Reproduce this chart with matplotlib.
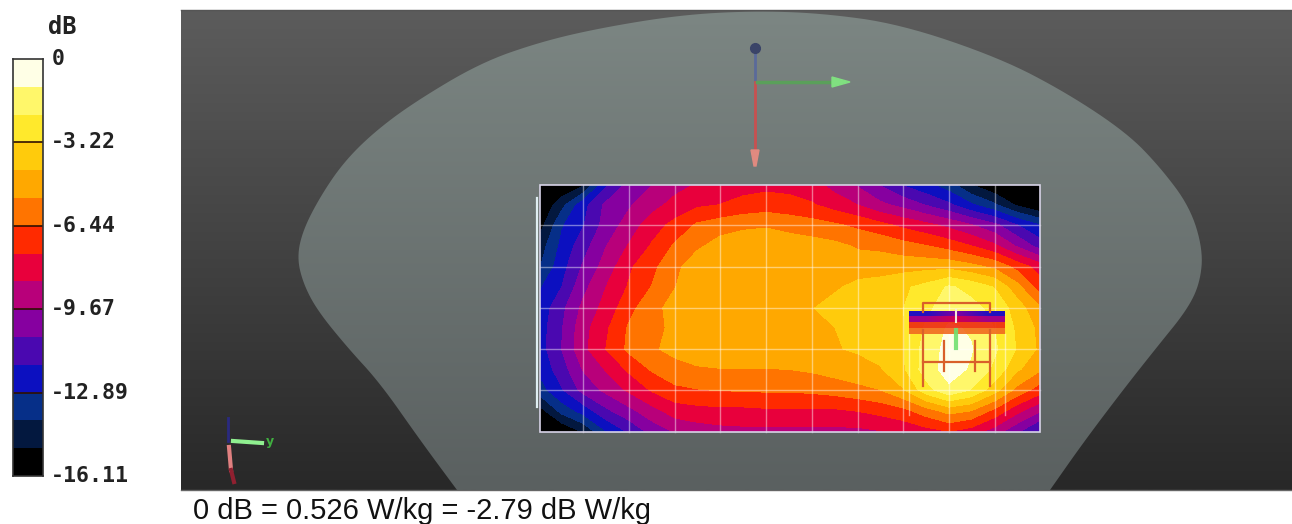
import numpy as np
import matplotlib
matplotlib.use("Agg")
import matplotlib.pyplot as plt
from matplotlib.path import Path
from matplotlib.patches import PathPatch, Rectangle
from matplotlib.transforms import ScaledTranslation

W, H = 1292, 524

# ---- colour scale ----
tick_values = [0, -3.22, -6.44, -9.67, -12.89, -16.11]
tick_labels = ["0", "-3.22", "-6.44", "-9.67", "-12.89", "-16.11"]
band_edges = np.linspace(-16.11, 0, 16)
band_colors = ["#000000", "#03183f", "#062f88", "#0c10c0", "#4a08b0", "#8600a0",
               "#b8007a", "#e8003c", "#ff2a00", "#ff7400", "#ffa800", "#ffcb0c",
               "#ffe92c", "#fff76a", "#ffffe6"]

# ---- measured field, dB, on the scan grid ----
grid_x = [540, 562, 583, 606, 629, 652, 675, 697, 720, 743, 766, 789, 812, 835, 858, 880,
          903, 926, 949, 971, 995, 1017, 1040]
grid_y = [185, 205, 225, 246, 267, 287, 308, 328, 349, 369, 390, 411, 432]
field_db = [
    [-16.1, -16.1, -15.2, -12.0, -10.4, -9.7, -9.0, -8.5, -8.1, -7.9, -7.8, -7.9, -8.2, -9.0, -9.8, -10.8, -11.9, -12.6, -13.5, -15.0, -16.0, -16.1, -16.1],
    [-16.1, -14.3, -12.2, -10.5, -9.8, -9.0, -8.2, -7.7, -7.5, -7.2, -7.0, -7.1, -7.4, -8.0, -8.6, -9.4, -10.0, -10.8, -11.6, -12.7, -13.8, -15.2, -16.1],
    [-15.5, -13.0, -11.9, -10.3, -9.2, -8.0, -7.2, -6.3, -5.9, -5.6, -5.5, -5.8, -6.0, -6.3, -6.7, -7.2, -7.8, -8.3, -8.9, -9.6, -10.5, -11.8, -12.9],
    [-14.5, -12.6, -11.2, -9.7, -8.5, -7.4, -6.3, -5.6, -4.9, -4.7, -4.6, -4.7, -4.9, -5.1, -5.5, -5.6, -6.0, -6.4, -6.9, -7.5, -8.4, -9.8, -11.2],
    [-14.0, -12.2, -10.6, -9.2, -7.7, -6.7, -5.7, -4.6, -4.7, -4.6, -4.6, -4.6, -4.6, -4.7, -4.8, -4.8, -4.7, -4.6, -4.6, -5.0, -5.6, -6.8, -8.0],
    [-13.0, -11.8, -10.0, -8.6, -7.4, -6.4, -5.4, -4.7, -4.6, -4.5, -4.5, -4.5, -4.5, -4.45, -4.0, -3.8, -3.4, -2.9, -2.0, -2.5, -3.3, -5.0, -7.0],
    [-12.5, -11.0, -9.4, -8.2, -6.8, -5.7, -5.0, -4.8, -4.6, -4.5, -4.45, -4.4, -4.35, -3.9, -3.6, -3.4, -3.25, -2.4, -1.6, -1.8, -2.5, -3.7, -5.3],
    [-12.3, -10.8, -9.0, -7.7, -6.3, -5.6, -5.2, -4.7, -4.6, -4.5, -4.5, -4.45, -4.4, -4.3, -3.9, -3.6, -3.3, -2.0, -0.9, -1.2, -2.2, -3.4, -4.6],
    [-12.3, -10.7, -8.9, -7.5, -6.2, -5.5, -5.1, -4.7, -4.6, -4.55, -4.5, -4.45, -4.4, -4.35, -4.2, -3.8, -3.3, -1.7, -0.7, -1.0, -2.0, -3.3, -4.5],
    [-12.6, -11.2, -9.6, -8.5, -7.3, -6.3, -5.7, -5.5, -5.4, -5.4, -5.4, -5.35, -5.2, -4.9, -4.6, -4.4, -3.4, -1.6, -0.6, -1.2, -2.4, -4.1, -5.2],
    [-13.4, -11.9, -10.4, -9.4, -8.4, -7.4, -6.7, -6.5, -6.4, -6.35, -6.3, -6.3, -6.2, -6.0, -5.7, -5.4, -4.4, -2.6, -1.3, -2.2, -3.9, -5.7, -7.0],
    [-15.5, -13.6, -12.5, -11.0, -10.0, -9.0, -8.1, -7.9, -7.8, -7.8, -7.7, -7.7, -7.7, -7.7, -7.5, -7.2, -6.8, -5.9, -5.0, -5.4, -6.8, -8.3, -9.6],
    [-16.1, -16.1, -15.0, -13.0, -11.7, -10.4, -9.6, -9.2, -9.0, -8.9, -8.9, -8.9, -8.9, -8.9, -8.9, -8.7, -8.4, -8.0, -7.6, -8.1, -9.2, -10.6, -12.2],
]

# ---- phantom outline and scene furniture (pixels) ----
phantom_outline = [(457, 490), (420, 440), (380, 383), (347, 347), (317, 310), (303, 283),
                   (297, 257), (303, 230), (320, 197), (343, 163), (373, 133), (413, 103),
                   (480, 63), (540, 42), (600, 28), (680, 15), (750, 11), (820, 13), (900, 24),
                   (1000, 58), (1067, 93), (1127, 133), (1160, 167), (1190, 207), (1203, 250),
                   (1200, 283), (1187, 310), (1157, 347), (1123, 390), (1083, 443), (1050, 490)]
note_text = "0 dB = 0.526 W/kg = -2.79 dB W/kg"


def gray_ramp(top, bottom):
    return np.linspace(np.array(top), np.array(bottom), 256)[:, None, :] / 255.0


def chaikin(pts, n=3):
    p = np.array(pts, float)
    for _ in range(n):
        a, b = p[:-1], p[1:]
        q = np.empty((2 * len(a), 2))
        q[0::2] = 0.75 * a + 0.25 * b
        q[1::2] = 0.25 * a + 0.75 * b
        p = np.vstack([p[0], q, p[-1]])
    return p


fig = plt.figure(figsize=(W / 100, H / 100), dpi=100, facecolor="white")
ax = fig.add_axes([0, 0, 1, 1])
ax.set_xlim(0, W)
ax.set_ylim(H, 0)
ax.axis("off")

# viewport background
ax.imshow(gray_ramp((92, 92, 92), (40, 40, 40)), extent=(181, W, 490, 10),
          aspect="auto", zorder=1, interpolation="bilinear")
ax.plot([181, W], [10, 10], color="#555555", lw=1, zorder=1.1)
ax.plot([181, W], [490, 490], color="#666666", lw=1, zorder=1.1)

# phantom
poly = chaikin(phantom_outline)
verts = np.vstack([poly, poly[0]])
codes = [Path.MOVETO] + [Path.LINETO] * (len(poly) - 1) + [Path.CLOSEPOLY]
clip = PathPatch(Path(verts, codes), transform=ax.transData, fc="none", ec="none")
ax.add_patch(clip)
im = ax.imshow(gray_ramp((124, 134, 131), (90, 96, 96)), extent=(181, W, 490, 10),
               aspect="auto", zorder=2, interpolation="bilinear")
im.set_clip_path(clip)
ax.set_xlim(0, W)
ax.set_ylim(H, 0)

# field map
ax.contourf(grid_x, grid_y, np.array(field_db), levels=band_edges, colors=band_colors,
            extend="both", zorder=3, antialiased=False)

# scan grid
for x in grid_x[2:-2:2]:
    ax.plot([x, x], [grid_y[0], grid_y[-1]], color="white", lw=1, alpha=0.45, zorder=4)
for y in grid_y[2:-2:2]:
    ax.plot([grid_x[0], grid_x[-1]], [y, y], color="white", lw=1, alpha=0.45, zorder=4)
ax.add_patch(Rectangle((grid_x[0], grid_y[0]), grid_x[-1] - grid_x[0], grid_y[-1] - grid_y[0],
                       fc="none", ec="#d8d4e8", lw=1.2, zorder=4))
ax.plot([537, 537], [198, 407], color="#dfeef2", lw=1.6, zorder=4)

# dipole drawn over the map
for (y0, y1, cl, cc) in [(311, 316, "#2010c0", "#8000a0"), (316, 322, "#a0008a", "#d00050"),
                         (322, 328, "#e0103a", "#ee2a10"), (328, 334, "#f05a20", "#f06a20")]:
    row = np.array([matplotlib.colors.to_rgb(c) for c in (cl, cc, cl)])[None, :, :]
    if y0 < 320:
        ax.imshow(row, extent=(909, 1005, y1, y0), aspect="auto", zorder=5, interpolation="bilinear")
    else:
        ax.add_patch(Rectangle((909, y0), 96, y1 - y0, fc=cc, ec="none", zorder=5, alpha=0.9))
ax.set_xlim(0, W)
ax.set_ylim(H, 0)
ax.plot([956, 956], [310, 322], color="#f4e8d8", lw=1.5, zorder=5.5)
dip = dict(color="#d9602a", lw=1.6, zorder=6)
ax.plot([923, 923, 990, 990], [312, 303, 303, 312], **dip)
ax.plot([923, 923], [330, 386], **dip)
ax.plot([990, 990], [330, 386], **dip)
ax.plot([923, 990], [362, 362], **dip)
ax.plot([944, 944], [341, 371], **dip)
ax.plot([975, 975], [341, 371], **dip)
for x in (909, 1005):
    ax.plot([x, x], [334, 415], color="white", lw=1, alpha=0.5, zorder=4)
ax.plot([956, 956], [330, 348], color="#70e070", lw=3, zorder=6.5, alpha=0.9)

# large axes triad
ax.plot([755, 755], [48, 82], color="#5a6a9a", lw=2, zorder=3)
ax.plot([755], [48], "o", color="#3a4468", ms=7, zorder=3)
ax.plot([755, 755], [82, 150], color="#c85050", lw=2, zorder=3)
ax.fill([751, 759, 756, 754], [150, 150, 166, 166], color="#e08a80", zorder=3)
ax.plot([757, 835], [82, 82], color="#5aa05a", lw=2.5, zorder=3)
ax.fill([832, 850, 832], [77, 82, 87], color="#80e080", zorder=3)

# small axes triad
ax.plot([228, 228], [418, 441], color="#2a2a80", lw=2, zorder=3)
ax.plot([229, 231], [447, 470], color="#e08080", lw=3, zorder=3)
ax.plot([231, 234], [470, 482], color="#902030", lw=3, zorder=3)
ax.plot([233, 262], [441, 443], color="#90f090", lw=3, zorder=3)
ax.text(270, 441, "y", color="#40b040", fontsize=9, fontweight="bold", ha="center", va="center", zorder=3)

ax.text(193, 511, note_text, fontsize=21, family="Liberation Sans", color="#111111",
        ha="left", va="center")

# colour bar
cax = fig.add_axes([13 / W, 1 - 476 / H, 30 / W, (476 - 59) / H])
cax.pcolormesh([0, 1], band_edges, np.array(band_edges[:-1])[:, None],
               cmap=matplotlib.colors.ListedColormap(band_colors),
               norm=matplotlib.colors.BoundaryNorm(band_edges, 15))
cax.set_ylim(-16.11, 0)
cax.set_xticks([])
cax.yaxis.tick_right()
cax.set_yticks(tick_values)
cax.set_yticklabels(tick_labels, family="DejaVu Sans Mono", fontsize=15.5, fontweight="bold", color="#222222")
cax.tick_params(axis="y", length=0, pad=6)
shift = ScaledTranslation(0, 2 / 100, fig.dpi_scale_trans)
for lbl in cax.get_yticklabels():
    lbl.set_transform(lbl.get_transform() + shift)
for s in cax.spines.values():
    s.set_color("#333333")
    s.set_linewidth(1.2)
for v in tick_values[1:-1]:
    cax.axhline(v, color="#301000", lw=1.2)
fig.text(62 / W, 1 - 27 / H, "dB", family="DejaVu Sans Mono", fontsize=17, fontweight="bold",
         color="#222222", ha="center", va="center")

fig.savefig("out.png", dpi=100)
